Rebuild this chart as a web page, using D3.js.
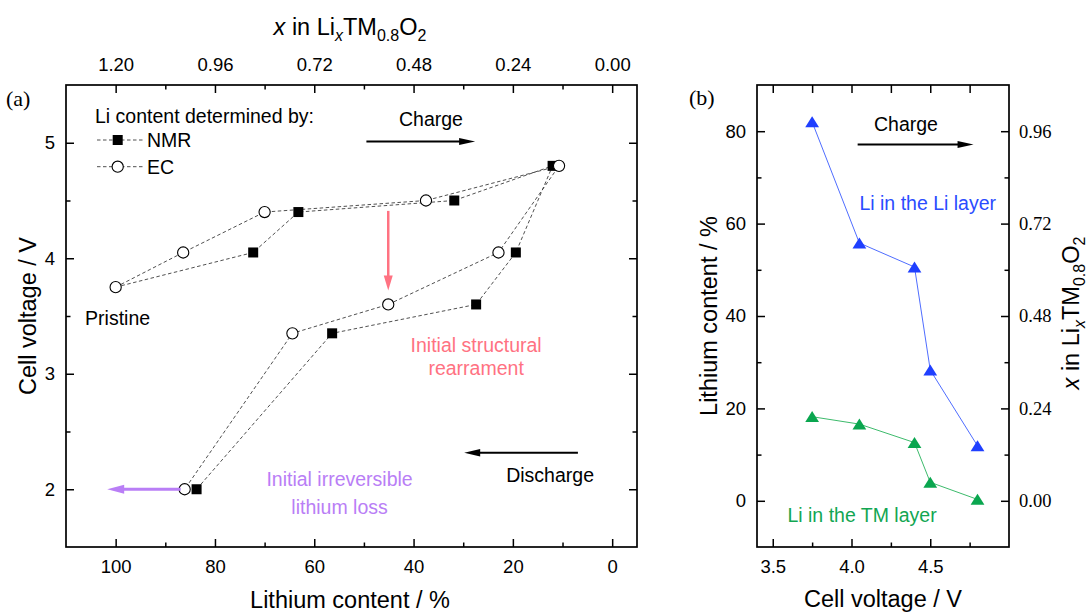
<!DOCTYPE html>
<html>
<head>
<meta charset="utf-8">
<script src="https://cdn.jsdelivr.net/npm/d3@7"></script>
<style>
  html, body { margin: 0; padding: 0; background: #fff; }
  svg { display: block; }
</style>
</head>
<body>
<svg id="chart" width="1089" height="615" font-family="'Liberation Sans', Arial, sans-serif"></svg>
<script>
// ---------- Panel (a): Li content vs. cell voltage ----------
const pristine = { content: 100, voltage: 3.75 };
const ecContent  = [86.4, 70.0, 37.5, 10.7, 22.9, 45.1, 64.4, 86.1];
const ecVoltage  = [4.05, 4.40, 4.50, 4.80, 4.05, 3.60, 3.35, 2.00];
const nmrContent = [72.3, 63.2, 31.8, 12.0, 19.4, 27.4, 56.4, 83.7];
const nmrVoltage = [4.05, 4.40, 4.50, 4.80, 4.05, 3.60, 3.35, 2.00];

const contentTicks = [100, 80, 60, 40, 20, 0];
const contentMinor = [90, 70, 50, 30, 10];
const stoichTicks  = [1.20, 0.96, 0.72, 0.48, 0.24, 0.00];
const stoichMinor  = [1.08, 0.84, 0.60, 0.36, 0.12];
const voltageTicks = [2, 3, 4, 5];
const voltageMinor = [2.5, 3.5, 4.5];

// ---------- Panel (b): Li site occupancy vs. voltage ----------
const stepVoltage = [3.75, 4.05, 4.40, 4.50, 4.80];
const liLayer     = [82.0, 55.8, 50.6, 28.3, 11.9];
const tmLayer     = [18.2, 16.6, 12.6, 4.0, 0.3];

const voltTicksB     = [3.5, 4.0, 4.5];
const voltMinorB     = [3.75, 4.25, 4.75];
const contentTicksB  = [0, 20, 40, 60, 80];
const contentMinorB  = [10, 30, 50, 70];
const stoichTicksB   = [0.00, 0.24, 0.48, 0.72, 0.96];

const svg = d3.select("#chart");
const SANS = "'Liberation Sans', Arial, sans-serif";
const SERIF = "'Liberation Serif', 'Times New Roman', serif";
const FS = 19.5;   // annotation text size

const A = { x0: 66, x1: 637, y0: 85, y1: 547 };
const B = { x0: 757, x1: 1009, y0: 85, y1: 547 };

// scales
const xA = d3.scaleLinear().domain([110, -5]).range([A.x0, A.x1]);
const xAtop = d3.scaleLinear().domain([1.32, -0.06]).range([A.x0, A.x1]);
const yA = d3.scaleLinear().domain([1.5, 5.5]).range([A.y1, A.y0]);

const xB = d3.scaleLinear().domain([3.4, 5.0]).range([B.x0, B.x1]);
const yB = d3.scaleLinear().domain([-10, 90]).range([B.y1, B.y0]);
const yBright = d3.scaleLinear().domain([-0.12, 1.08]).range([B.y1, B.y0]);

// draws one set of inward ticks (labels optional)
function tickSet(axisFn, scale, values, size, pad, fmt, tx, ty, family) {
  const ax = axisFn(scale).tickValues(values).tickSize(size).tickPadding(pad)
    .tickFormat(fmt || (() => ""));
  const g = svg.append("g").attr("transform", `translate(${tx},${ty})`).call(ax);
  g.select(".domain").remove();
  g.attr("font-family", family || SANS).attr("font-size", 18.5);
  g.selectAll(".tick line").attr("stroke", "#000").attr("stroke-width", 1.5);
  g.selectAll(".tick text").attr("fill", "#000");
  return g;
}

const MAJ = -8, MIN = -4.5;

// ---- panel (a) axes ----
tickSet(d3.axisBottom, xA, contentTicks, MAJ, 13, d3.format("d"), 0, A.y1);
tickSet(d3.axisBottom, xA, contentMinor, MIN, 13, null, 0, A.y1);
tickSet(d3.axisTop, xAtop, stoichTicks, MAJ, 14, d3.format(".2f"), 0, A.y0);
tickSet(d3.axisTop, xAtop, stoichMinor, MIN, 14, null, 0, A.y0);
tickSet(d3.axisLeft, yA, voltageTicks, MAJ, 11, d3.format("d"), A.x0, 0);
tickSet(d3.axisLeft, yA, voltageMinor, MIN, 11, null, A.x0, 0);
tickSet(d3.axisRight, yA, voltageTicks, MAJ, 11, null, A.x1, 0);
tickSet(d3.axisRight, yA, voltageMinor, MIN, 11, null, A.x1, 0);

svg.append("rect").attr("x", A.x0).attr("y", A.y0)
  .attr("width", A.x1 - A.x0).attr("height", A.y1 - A.y0)
  .attr("fill", "none").attr("stroke", "#000").attr("stroke-width", 1.7);

// ---- panel (b) axes ----
tickSet(d3.axisBottom, xB, voltTicksB, MAJ, 13, d3.format(".1f"), 0, B.y1);
tickSet(d3.axisBottom, xB, voltMinorB, MIN, 13, null, 0, B.y1);
tickSet(d3.axisTop, xB, voltTicksB, MAJ, 13, null, 0, B.y0);
tickSet(d3.axisTop, xB, voltMinorB, MAJ, 13, null, 0, B.y0);
tickSet(d3.axisLeft, yB, contentTicksB, MAJ, 11, d3.format("d"), B.x0, 0);
tickSet(d3.axisLeft, yB, contentMinorB, MIN, 11, null, B.x0, 0);
tickSet(d3.axisRight, yBright, stoichTicksB, MAJ, 10, d3.format(".2f"), B.x1, 0, SERIF);
tickSet(d3.axisRight, yB, contentMinorB, MIN, 10, null, B.x1, 0);

svg.append("rect").attr("x", B.x0).attr("y", B.y0)
  .attr("width", B.x1 - B.x0).attr("height", B.y1 - B.y0)
  .attr("fill", "none").attr("stroke", "#000").attr("stroke-width", 1.7);

// ---- axis titles ----
function stoichTitle(t) {
  t.append("tspan").attr("font-style", "italic").text("x");
  t.append("tspan").text(" in Li");
  t.append("tspan").attr("font-style", "italic").attr("font-size", 16).attr("dy", 6).text("x");
  t.append("tspan").attr("dy", -6).text("TM");
  t.append("tspan").attr("font-size", 16).attr("dy", 6).text("0.8");
  t.append("tspan").attr("dy", -6).text("O");
  t.append("tspan").attr("font-size", 16).attr("dy", 6).text("2");
}

svg.append("text").attr("x", 350).attr("y", 35).attr("text-anchor", "middle")
  .attr("font-size", 23.5).call(stoichTitle);
svg.append("text").attr("x", 350).attr("y", 608).attr("text-anchor", "middle")
  .attr("font-size", 23.5).text("Lithium content / %");
svg.append("text").attr("transform", "translate(36,316) rotate(-90)")
  .attr("text-anchor", "middle").attr("font-size", 23.5).text("Cell voltage / V");

svg.append("text").attr("x", 883).attr("y", 607).attr("text-anchor", "middle")
  .attr("font-size", 23.5).text("Cell voltage / V");
svg.append("text").attr("transform", "translate(717,316) rotate(-90)")
  .attr("text-anchor", "middle").attr("font-size", 23.5).text("Lithium content / %");
svg.append("text").attr("transform", "translate(1079,313) rotate(-90)")
  .attr("text-anchor", "middle").attr("font-size", 23.5).call(stoichTitle);

// panel letters
svg.append("text").attr("x", 6).attr("y", 106).attr("font-family", SERIF)
  .attr("font-size", 22).text("(a)");
svg.append("text").attr("x", 689).attr("y", 105).attr("font-family", SERIF)
  .attr("font-size", 22).text("(b)");

// ---- arrow helper ----
function arrow(x1, y1, x2, y2, color, width, headLen, headW) {
  const dx = x2 - x1, dy = y2 - y1, L = Math.hypot(dx, dy);
  const ux = dx / L, uy = dy / L, px = -uy, py = ux;
  const bx = x2 - ux * headLen, by = y2 - uy * headLen;
  svg.append("line").attr("x1", x1).attr("y1", y1)
    .attr("x2", bx + ux * 1).attr("y2", by + uy * 1)
    .attr("stroke", color).attr("stroke-width", width);
  svg.append("path")
    .attr("d", `M${x2},${y2}L${bx + px * headW / 2},${by + py * headW / 2}L${bx - px * headW / 2},${by - py * headW / 2}Z`)
    .attr("fill", color);
}

// ---- panel (a) data ----
const ecPts = [pristine].concat(ecContent.map((c, i) => ({ content: c, voltage: ecVoltage[i] })));
const nmrPts = nmrContent.map((c, i) => ({ content: c, voltage: nmrVoltage[i] }));
const lineA = d3.line().x(d => xA(d.content)).y(d => yA(d.voltage));

svg.append("path").datum([pristine].concat(nmrPts)).attr("d", lineA)
  .attr("fill", "none").attr("stroke", "#3c3c3c").attr("stroke-width", 0.9)
  .attr("stroke-dasharray", "3.5,2.5");
svg.append("path").datum(ecPts).attr("d", lineA)
  .attr("fill", "none").attr("stroke", "#3c3c3c").attr("stroke-width", 0.9)
  .attr("stroke-dasharray", "3.5,2.5");

const SQ = 10;
svg.append("g").selectAll("rect").data(nmrPts).join("rect")
  .attr("x", d => xA(d.content) - SQ / 2).attr("y", d => yA(d.voltage) - SQ / 2)
  .attr("width", SQ).attr("height", SQ).attr("fill", "#000");
svg.append("g").selectAll("circle").data(ecPts).join("circle")
  .attr("cx", d => xA(d.content)).attr("cy", d => yA(d.voltage)).attr("r", 5.6)
  .attr("fill", "#fff").attr("stroke", "#000").attr("stroke-width", 1.1);

// legend
svg.append("text").attr("x", 95).attr("y", 123).attr("font-size", FS).text("Li content determined by:");
[["NMR", 140], ["EC", 166.7]].forEach(([name, y]) => {
  svg.append("line").attr("x1", 97).attr("x2", 143).attr("y1", y).attr("y2", y)
    .attr("stroke", "#3c3c3c").attr("stroke-width", 0.9).attr("stroke-dasharray", "3.5,2.5");
  if (name === "NMR") {
    svg.append("rect").attr("x", 117.7 - SQ / 2).attr("y", y - SQ / 2)
      .attr("width", SQ).attr("height", SQ).attr("fill", "#000");
  } else {
    svg.append("circle").attr("cx", 117.7).attr("cy", y).attr("r", 5.6)
      .attr("fill", "#fff").attr("stroke", "#000").attr("stroke-width", 1.1);
  }
  svg.append("text").attr("x", 147).attr("y", y + 6.8).attr("font-size", FS).text(name);
});

// annotations panel (a)
const PINK = "#ff7282", PURPLE = "#b97ef6";
svg.append("text").attr("x", xA(36.5)).attr("y", yA(5.147)).attr("text-anchor", "middle")
  .attr("font-size", FS).text("Charge");
arrow(xA(49.5), yA(5.01), xA(27.6), yA(5.01), "#000", 2, 16, 7);

svg.append("text").attr("x", xA(99.6)).attr("y", yA(3.42)).attr("text-anchor", "middle")
  .attr("font-size", FS).text("Pristine");

arrow(xA(45.1), yA(4.41), xA(45.1), yA(3.72), PINK, 2.5, 15, 9);
svg.append("text").attr("x", xA(27.4)).attr("y", yA(3.19)).attr("text-anchor", "middle")
  .attr("font-size", FS).attr("fill", PINK).text("Initial structural");
svg.append("text").attr("x", xA(27.4)).attr("y", yA(2.99)).attr("text-anchor", "middle")
  .attr("font-size", FS).attr("fill", PINK).text("rearrament");

arrow(xA(86.9), yA(2.0), xA(101.7), yA(2.0), PURPLE, 3, 17, 9);
svg.append("text").attr("x", xA(54.9)).attr("y", yA(2.03)).attr("text-anchor", "middle")
  .attr("font-size", FS).attr("fill", PURPLE).text("Initial irreversible");
svg.append("text").attr("x", xA(54.9)).attr("y", yA(1.79)).attr("text-anchor", "middle")
  .attr("font-size", FS).attr("fill", PURPLE).text("lithium loss");

arrow(xA(6.9), yA(2.315), xA(29.8), yA(2.315), "#000", 2, 16, 7.5);
svg.append("text").attr("x", xA(12.5)).attr("y", yA(2.066)).attr("text-anchor", "middle")
  .attr("font-size", FS).text("Discharge");

// ---- panel (b) data ----
const BLUE = "#1f3fff", BLUE_LINE = "#4f6dff";
const GREEN = "#0aa64f", GREEN_LINE = "#3dbb6c";
const lineB = d3.line().x(d => xB(d.v)).y(d => yB(d.c));
const liPts = stepVoltage.map((v, i) => ({ v, c: liLayer[i] }));
const tmPts = stepVoltage.map((v, i) => ({ v, c: tmLayer[i] }));
const tri = "M0,-5.6L6.9,5.4L-6.9,5.4Z";

[[liPts, BLUE, BLUE_LINE], [tmPts, GREEN, GREEN_LINE]].forEach(([pts, col, lcol]) => {
  svg.append("path").datum(pts).attr("d", lineB).attr("fill", "none")
    .attr("stroke", lcol).attr("stroke-width", 1);
  svg.append("g").selectAll("path").data(pts).join("path")
    .attr("d", tri).attr("transform", d => `translate(${xB(d.v)},${yB(d.c)})`)
    .attr("fill", col);
});

svg.append("text").attr("x", xB(4.346)).attr("y", yB(80.0)).attr("text-anchor", "middle")
  .attr("font-size", FS).text("Charge");
arrow(xB(4.039), yB(77.1), xB(4.775), yB(77.1), "#000", 2, 16, 7);

svg.append("text").attr("x", xB(4.484)).attr("y", yB(63.0)).attr("text-anchor", "middle")
  .attr("font-size", FS).attr("fill", "#2a4cff").text("Li in the Li layer");
svg.append("text").attr("x", xB(4.067)).attr("y", yB(-4.5)).attr("text-anchor", "middle")
  .attr("font-size", FS).attr("fill", "#12a652").text("Li in the TM layer");
</script>
</body>
</html>
